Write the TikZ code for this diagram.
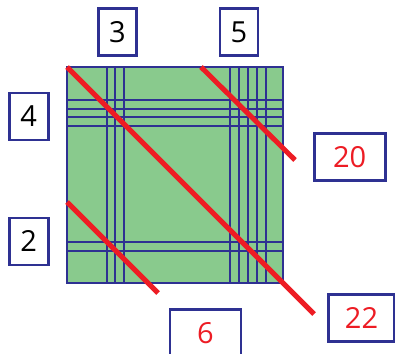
\documentclass[tikz,border=0pt]{standalone}
\usepackage{fontspec}
\setmainfont{Open Sans}
\usepackage{xcolor}
\usetikzlibrary{positioning}
\definecolor{gridblue}{HTML}{2E3192}
\definecolor{cellgreen}{HTML}{89CA8D}
\definecolor{cutred}{HTML}{ED1C24}
\tikzset{
every picture/.style={line join=miter},
count box/.style={
  draw=gridblue,
  line width=2.6pt,
  fill=white,
  minimum width=38pt,
  minimum height=47pt,
  inner sep=0pt,
  font=\fontsize{29}{29}\selectfont
},
wide box/.style={count box, minimum width=71pt},
grid line/.style={draw=gridblue, line width=2.8pt},
cut line/.style={draw=cutred, line width=5pt}
}
\begin{document}
\begin{tikzpicture}[x=1pt,y=-1pt]
\useasboundingbox (0,0) rectangle (395,353);
% square with lines
\fill[cellgreen] (67,67) rectangle (283,283);
\foreach \x in {107,115,124,230,239,248,257,266} {\draw[grid line] (\x,67) -- (\x,283);}
\foreach \y in {100,109,117,126,242,251} {\draw[grid line] (67,\y) -- (283,\y);}
\draw[grid line] (67,67) rectangle (283,283);
% cutting lines
\coordinate (a1) at (67,67);
\coordinate (a2) at (314,314);
\coordinate (b1) at (201,67);
\coordinate (b2) at (295,160);
\coordinate (c1) at (67,202);
\coordinate (c2) at (158,293);
\draw[cut line] (a1) -- (a2);
\draw[cut line] (b1) -- (b2);
\draw[cut line] (c1) -- (c2);
% counts
\node[count box] (three) at (117.5,32) {3};
\node[count box] (five) at (239,32) {5};
\node[count box, minimum width=39pt] (four) at (28.7,116.3) {4};
\node[count box, minimum width=39pt] (two) at (28.7,241.3) {2};
\node[wide box, text=cutred] (twenty) at (349.7,157) {20};
\node[wide box, minimum width=66pt, text=cutred] (twentytwo) at (361.5,317.8) {22};
\node[wide box, text=cutred] (six) at (205.3,333) {6};
\end{tikzpicture}
\end{document}
